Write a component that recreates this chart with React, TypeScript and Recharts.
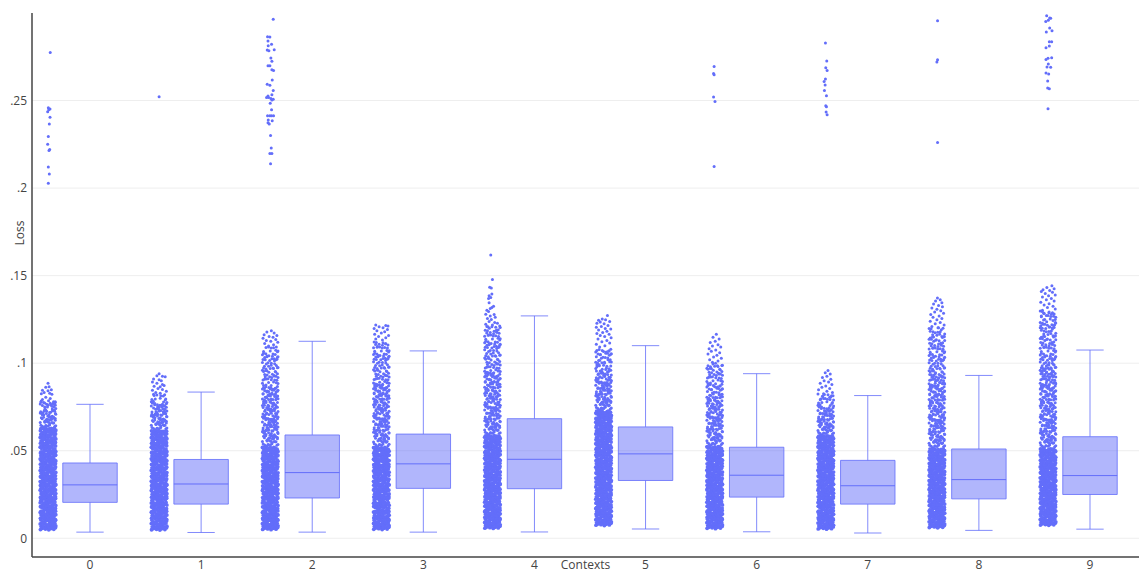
import React from 'react';
import { ScatterChart, Scatter, XAxis, YAxis, CartesianGrid, ReferenceArea, ReferenceLine, Label } from 'recharts';

const categories = [0, 1, 2, 3, 4, 5, 6, 7, 8, 9];
const lossTicks = [0, 0.05, 0.1, 0.15, 0.2, 0.25];

// box stats per context
const whiskerLow = [0.0035, 0.0033, 0.0035, 0.0035, 0.0036, 0.0053, 0.0037, 0.003, 0.0045, 0.0052];
const quartile1 = [0.0205, 0.0195, 0.023, 0.0285, 0.0283, 0.033, 0.0235, 0.0195, 0.0225, 0.025];
const medians = [0.0305, 0.031, 0.0375, 0.0425, 0.0451, 0.0482, 0.036, 0.03, 0.0335, 0.0358];
const quartile3 = [0.043, 0.045, 0.059, 0.0595, 0.0683, 0.0636, 0.052, 0.0445, 0.051, 0.058];
const whiskerHigh = [0.0765, 0.0835, 0.1125, 0.107, 0.127, 0.11, 0.094, 0.0815, 0.093, 0.1075];

// losses of the solid lower part of each strip
const solidLoss = [
  [0.0054, 0.0068, 0.0081, 0.0098, 0.0112, 0.0129, 0.0143, 0.0158, 0.0175, 0.0189, 0.0206, 0.0221, 0.0235, 0.0252, 0.0268, 0.0281, 0.0298, 0.0313, 0.0329, 0.0344, 0.0358, 0.0375, 0.0391, 0.0405, 0.0422, 0.0437, 0.0451, 0.0468, 0.0483, 0.0498, 0.0515, 0.0529, 0.0546, 0.0561, 0.0577, 0.0592, 0.0608, 0.0623],
  [0.0053, 0.0067, 0.0083, 0.0096, 0.0113, 0.0127, 0.0144, 0.0157, 0.0173, 0.0191, 0.0204, 0.0222, 0.0236, 0.0251, 0.0266, 0.0283, 0.0297, 0.0312, 0.0331, 0.0343, 0.036, 0.0374, 0.0392, 0.0404, 0.0421, 0.0438, 0.0452, 0.0467, 0.0484, 0.0497, 0.0514, 0.053, 0.0545, 0.0562, 0.0576, 0.0593, 0.0607],
  [0.0055, 0.0069, 0.0082, 0.0099, 0.0111, 0.0128, 0.0142, 0.0159, 0.0174, 0.0188, 0.0205, 0.0222, 0.0234, 0.0253, 0.0267, 0.0282, 0.0296, 0.0314, 0.0328, 0.0345, 0.0359, 0.0373, 0.039, 0.0406, 0.042, 0.0436, 0.0453, 0.0466, 0.0482, 0.0499, 0.0513],
  [0.0056, 0.007, 0.0084, 0.0097, 0.0114, 0.0126, 0.0145, 0.0156, 0.0176, 0.019, 0.0203, 0.0223, 0.0237, 0.025, 0.0269, 0.028, 0.0299, 0.0311, 0.033, 0.0342, 0.0361, 0.0376, 0.0389, 0.0407, 0.0419, 0.0439, 0.045, 0.0469, 0.0481, 0.05, 0.0512],
  [0.0062, 0.0075, 0.0089, 0.0103, 0.0118, 0.0134, 0.0147, 0.0163, 0.0178, 0.0193, 0.0209, 0.0224, 0.0239, 0.0255, 0.0271, 0.0285, 0.0301, 0.0316, 0.0333, 0.0347, 0.0362, 0.0378, 0.0394, 0.0408, 0.0425, 0.044, 0.0455, 0.0471, 0.0486, 0.0502, 0.0518, 0.0532, 0.0549, 0.0564, 0.0579],
  [0.0079, 0.0091, 0.0105, 0.012, 0.0136, 0.0149, 0.0165, 0.018, 0.0195, 0.0211, 0.0226, 0.0241, 0.0257, 0.0273, 0.0287, 0.0303, 0.0318, 0.0335, 0.0349, 0.0364, 0.038, 0.0396, 0.041, 0.0427, 0.0442, 0.0457, 0.0473, 0.0488, 0.0504, 0.052, 0.0534, 0.0551, 0.0566, 0.0581, 0.0597, 0.0612, 0.0628, 0.0643, 0.0659, 0.0675, 0.069, 0.0706, 0.0721],
  [0.0061, 0.0074, 0.0088, 0.0102, 0.0117, 0.0133, 0.0146, 0.0162, 0.0177, 0.0192, 0.0208, 0.0225, 0.0238, 0.0254, 0.027, 0.0284, 0.03, 0.0315, 0.0332, 0.0346, 0.0363, 0.0377, 0.0393, 0.0409, 0.0424, 0.0441, 0.0454, 0.047, 0.0487, 0.0501, 0.0517],
  [0.0058, 0.0072, 0.0086, 0.01, 0.0115, 0.0131, 0.0146, 0.016, 0.0177, 0.0192, 0.0207, 0.0224, 0.0238, 0.0254, 0.0268, 0.0284, 0.0301, 0.0315, 0.0331, 0.0346, 0.0361, 0.0377, 0.0393, 0.0408, 0.0423, 0.0439, 0.0454, 0.047, 0.0486, 0.05, 0.0516, 0.0531, 0.0547, 0.0563, 0.0578],
  [0.0066, 0.0079, 0.0093, 0.0107, 0.0122, 0.0138, 0.0151, 0.0167, 0.0182, 0.0197, 0.0213, 0.0228, 0.0243, 0.0259, 0.0272, 0.0286, 0.0302, 0.0317, 0.0334, 0.0348, 0.0365, 0.0379, 0.0395, 0.0411, 0.0426, 0.0443, 0.0456, 0.0472, 0.0489, 0.0503],
  [0.008, 0.0092, 0.0106, 0.0121, 0.0137, 0.015, 0.0166, 0.0181, 0.0196, 0.0212, 0.0227, 0.0242, 0.0258, 0.0274, 0.0288, 0.0304, 0.0319, 0.0336, 0.035, 0.0366, 0.0381, 0.0397, 0.0412, 0.0428, 0.0444, 0.0458, 0.0474, 0.049, 0.0505],
];

// losses of the speckled middle part of each strip
const midLoss = [
  [0.0637, 0.0652, 0.0671, 0.0684, 0.0702, 0.0718, 0.0729, 0.0747, 0.0758, 0.0771],
  [0.0622, 0.0639, 0.0656, 0.0668, 0.0687, 0.0701, 0.0714, 0.0733, 0.0746, 0.0759, 0.0772, 0.0788, 0.0805],
  [0.0529, 0.0544, 0.0563, 0.0578, 0.0591, 0.0611, 0.0624, 0.0642, 0.0655, 0.0673, 0.0689, 0.0703, 0.0722, 0.0736, 0.0751, 0.0769, 0.0784, 0.0801, 0.0815, 0.0834, 0.0848, 0.0863, 0.0882, 0.0897, 0.0914, 0.0928, 0.0946, 0.0961, 0.0979, 0.0993, 0.1012, 0.1028, 0.1046, 0.1063, 0.1079],
  [0.0527, 0.0546, 0.056, 0.0579, 0.0594, 0.0609, 0.0627, 0.0643, 0.0658, 0.0676, 0.069, 0.0707, 0.0724, 0.0738, 0.0755, 0.0771, 0.0786, 0.0803, 0.0819, 0.0836, 0.085, 0.0867, 0.0884, 0.0899, 0.0917, 0.0931, 0.0949, 0.0964, 0.0981, 0.0997, 0.1014, 0.1031, 0.1047, 0.1062, 0.108, 0.1098, 0.1114],
  [0.0596, 0.0612, 0.0628, 0.0643, 0.0659, 0.0674, 0.0691, 0.0705, 0.0723, 0.0739, 0.0754, 0.0772, 0.0787, 0.0804, 0.082, 0.0835, 0.0853, 0.0868, 0.0885, 0.0901, 0.0918, 0.0933, 0.0951, 0.0966, 0.0983, 0.0999, 0.1016, 0.1032, 0.1049, 0.1065, 0.1082, 0.1099, 0.1115, 0.1131, 0.1148, 0.1164, 0.1181, 0.1197],
  [0.0737, 0.0753, 0.0769, 0.0785, 0.0799, 0.0817, 0.0832, 0.0849, 0.0865, 0.0881, 0.0896, 0.0913, 0.0929, 0.0945, 0.0962, 0.0977, 0.0994, 0.1011, 0.1026, 0.1043, 0.106, 0.1076],
  [0.0534, 0.0552, 0.0567, 0.0583, 0.0601, 0.0616, 0.0633, 0.0648, 0.0665, 0.0681, 0.0697, 0.0713, 0.073, 0.0745, 0.0762, 0.0778, 0.0795, 0.0811, 0.0827, 0.0843, 0.086, 0.0876, 0.0893, 0.0908, 0.0925, 0.0941, 0.0958, 0.0974, 0.0991],
  [0.0594, 0.061, 0.0626, 0.0641, 0.0657, 0.0672, 0.0689, 0.0704, 0.0721, 0.0737, 0.0752, 0.0768, 0.0785, 0.0801, 0.0817],
  [0.052, 0.0537, 0.0553, 0.0569, 0.0586, 0.0602, 0.0618, 0.0635, 0.065, 0.0667, 0.0683, 0.07, 0.0716, 0.0732, 0.0749, 0.0765, 0.0781, 0.0798, 0.0813, 0.083, 0.0846, 0.0862, 0.0879, 0.0895, 0.0912, 0.0927, 0.0944, 0.096, 0.0977, 0.0992, 0.1009, 0.1025, 0.1042, 0.1058, 0.1074, 0.1091, 0.1107, 0.1123, 0.114, 0.1156, 0.1172, 0.1189],
  [0.0521, 0.0538, 0.0555, 0.057, 0.0587, 0.0604, 0.062, 0.0636, 0.0653, 0.0669, 0.0685, 0.0702, 0.0717, 0.0734, 0.075, 0.0767, 0.0783, 0.08, 0.0816, 0.0832, 0.0849, 0.0865, 0.0881, 0.0898, 0.0915, 0.0931, 0.0947, 0.0963, 0.098, 0.0996, 0.1013, 0.1029, 0.1045, 0.1062, 0.1078, 0.1095, 0.1111, 0.1127, 0.1144, 0.116, 0.1177, 0.1193, 0.121, 0.1226, 0.1242, 0.1259, 0.1275, 0.1291],
];

// sideways spread of a strip row, in category units
const solidJitter = [
  [-0.068, -0.053, -0.038, -0.023, -0.008, 0.007, 0.022, 0.037, 0.052, 0.067],
  [-0.062, -0.047, -0.032, -0.017, -0.002, 0.013, 0.028, 0.043, 0.058, 0.07],
  [-0.07, -0.058, -0.043, -0.028, -0.013, 0.002, 0.017, 0.032, 0.047, 0.062],
  [-0.064, -0.05, -0.035, -0.02, -0.005, 0.01, 0.025, 0.04, 0.055, 0.068],
];
const midJitter = [
  [-0.065, 0.015, -0.02, 0.06, -0.045, 0.038, 0.002, -0.032, 0.048],
  [-0.05, 0.035, -0.005, 0.07, -0.028, 0.052, 0.016, -0.064, -0.015],
  [-0.07, 0.02, -0.03, 0.045, -0.012, 0.065, 0.006, -0.052, 0.032],
  [-0.04, 0.05, 0, 0.065, -0.06, 0.025, -0.02, 0.012, 0.038],
  [-0.06, 0.03, -0.015, 0.07, -0.038, 0.008, 0.05, -0.05, -0.002],
  [-0.07, 0.01, -0.035, 0.055, -0.052, 0.04, -0.012, 0.024, 0.067],
];
// small up/down scatter so rows do not read as rows
const rowWobble = [-0.0009, 0.0004, 0.0011, -0.0003, 0.0007, -0.0012, 0.0002, 0.0009, -0.0006, 0.0013, -0.001];

// individually read points: [jitter, loss]
const tipPoints: [number, number][][] = [
  [[0.02, 0.2775], [0.003, 0.2459], [0.018, 0.2451], [0.007, 0.2448], [-0.003, 0.2436], [0.018, 0.2404], [0.012, 0.2366], [0.003, 0.2295], [-0.003, 0.2251], [0.015, 0.2221], [0.009, 0.2215], [0.003, 0.212], [0.012, 0.208], [0.003, 0.2027],
    [0, 0.0885], [0.01, 0.0865], [-0.02, 0.0862], [0.03, 0.0848], [-0.05, 0.0845], [0, 0.0842], [-0.035, 0.0832], [0.015, 0.0828], [-0.06, 0.0825], [0.035, 0.0822], [-0.02, 0.0805], [0.02, 0.0798], [-0.05, 0.0792], [0.005, 0.0785], [-0.065, 0.0778], [0.05, 0.078], [0.065, 0.0775], [0.06, 0.0765], [-0.03, 0.0772]],
  [[0, 0.2522],
    [0, 0.094], [-0.02, 0.0928], [0.03, 0.0925], [0.055, 0.0922], [-0.05, 0.091], [0, 0.0905], [0.02, 0.09], [-0.06, 0.0892], [-0.02, 0.0885], [0.03, 0.0878], [-0.045, 0.0868], [0.01, 0.0866], [0.045, 0.0872], [-0.01, 0.0855], [0.03, 0.085], [-0.06, 0.0845], [0.065, 0.084], [-0.03, 0.0832], [0.01, 0.0828], [-0.05, 0.0822], [0.05, 0.082]],
  [[0.027, 0.2964], [-0.024, 0.2865], [-0.003, 0.2863], [-0.02, 0.284], [0.012, 0.2821], [-0.018, 0.2813], [-0.027, 0.2789], [-0.012, 0.2785], [0.036, 0.279], [0.006, 0.2743], [0.015, 0.2724], [-0.02, 0.2699], [-0.003, 0.2699], [0.015, 0.2676], [0.03, 0.2672], [0.018, 0.2617], [-0.027, 0.2593], [-0.003, 0.2587], [0.027, 0.2558], [0.015, 0.2533], [-0.02, 0.2526], [-0.033, 0.2518], [-0.015, 0.2518], [0.006, 0.2512], [0.027, 0.2507], [0.015, 0.2503], [0, 0.2484], [0.012, 0.2448], [-0.024, 0.2413], [-0.003, 0.2413], [0.012, 0.2413], [0.03, 0.2413], [-0.018, 0.2389], [0.018, 0.2385], [-0.02, 0.2373], [-0.009, 0.2366], [0.003, 0.2301], [0.009, 0.2229], [-0.003, 0.2198], [0.015, 0.2198], [0.003, 0.2139],
    [0.01, 0.1185], [-0.03, 0.1178], [0.035, 0.1172], [-0.055, 0.1162], [0.06, 0.1158], [-0.01, 0.1152], [0.025, 0.1148], [-0.065, 0.1142], [0.05, 0.1135], [-0.035, 0.113], [0.005, 0.1125], [0.068, 0.112], [-0.05, 0.1112], [0.03, 0.1105], [-0.015, 0.1098], [0.055, 0.1092]],
  [[-0.05, 0.1218], [0.04, 0.1215], [0.06, 0.1213], [-0.02, 0.1208], [0.015, 0.1202], [-0.065, 0.1198], [0.055, 0.1192], [-0.04, 0.1185], [0.03, 0.118], [0, 0.1172], [-0.06, 0.1165], [0.065, 0.1158], [-0.025, 0.1152], [0.04, 0.1145], [-0.05, 0.1138], [0.01, 0.1132]],
  [[-0.015, 0.1618], [0, 0.1478], [-0.025, 0.1434], [-0.01, 0.143], [-0.005, 0.1395], [-0.03, 0.1385], [-0.015, 0.1375], [-0.035, 0.137], [-0.03, 0.1345], [-0.05, 0.1302], [-0.02, 0.1312], [-0.005, 0.1318], [0.01, 0.1325], [-0.06, 0.128], [-0.035, 0.1295], [0.015, 0.1278], [-0.02, 0.127], [0.025, 0.1262], [-0.045, 0.1255], [-0.01, 0.125], [-0.03, 0.1238], [0.02, 0.1232], [0.045, 0.1228], [-0.06, 0.1222], [0, 0.1218], [0.065, 0.1212], [-0.04, 0.1208], [0.03, 0.1205]],
  [[0.035, 0.1272], [-0.012, 0.1252], [-0.045, 0.1245], [0.018, 0.1248], [-0.03, 0.1235], [0.055, 0.1238], [-0.06, 0.1228], [0.005, 0.1225], [0.04, 0.1215], [-0.065, 0.1205], [-0.02, 0.121], [0.065, 0.1195], [0.015, 0.1198], [-0.045, 0.119], [0.03, 0.1182], [-0.008, 0.1175], [-0.06, 0.117], [0.05, 0.1165], [-0.03, 0.1158], [0.01, 0.1152], [0.068, 0.1145], [-0.05, 0.1138], [0.03, 0.113], [-0.015, 0.1122], [0.055, 0.1115], [-0.065, 0.1108], [0.012, 0.11], [-0.035, 0.1092]],
  [[-0.005, 0.2695], [-0.01, 0.2655], [-0.005, 0.2648], [-0.01, 0.252], [0.003, 0.2495], [-0.005, 0.2124],
    [0.015, 0.1165], [-0.015, 0.1148], [0.04, 0.1138], [0.005, 0.1125], [-0.04, 0.1118], [0.03, 0.1105], [-0.02, 0.1098], [0.055, 0.1092], [-0.05, 0.1082], [0.01, 0.1075], [-0.03, 0.1068], [0.045, 0.106], [-0.06, 0.1052], [0.02, 0.1045], [-0.01, 0.1035], [0.06, 0.1028], [-0.045, 0.102], [0.03, 0.1012], [-0.02, 0.1005]],
  [[-0.003, 0.2829], [0.009, 0.2726], [0, 0.2688], [0.012, 0.2671], [-0.003, 0.2623], [-0.015, 0.2609], [-0.006, 0.2589], [-0.012, 0.2558], [0.006, 0.2527], [0, 0.247], [0.006, 0.2465], [0.003, 0.2434], [0.012, 0.2419],
    [0.02, 0.0958], [-0.005, 0.0945], [0.04, 0.0938], [0.01, 0.0925], [-0.03, 0.0918], [0.045, 0.0908], [-0.015, 0.09], [0.025, 0.0892], [-0.05, 0.0885], [0.055, 0.0878], [0, 0.087], [-0.035, 0.0862], [0.035, 0.0855], [-0.065, 0.0848], [0.01, 0.084], [0.06, 0.0832], [-0.02, 0.0825]],
  [[0.006, 0.2956], [0.006, 0.2733], [0, 0.272], [0.006, 0.2261],
    [0.005, 0.1372], [0.03, 0.1362], [-0.012, 0.1355], [0.045, 0.1345], [-0.03, 0.1338], [0.015, 0.133], [0.05, 0.1322], [-0.045, 0.1315], [0, 0.1308], [0.035, 0.13], [-0.02, 0.1292], [0.06, 0.1285], [-0.055, 0.1278], [0.02, 0.127], [-0.035, 0.1262], [0.045, 0.1255], [0, 0.1248], [-0.06, 0.124], [0.03, 0.1232], [-0.015, 0.1225], [0.065, 0.1218], [-0.045, 0.121], [0.015, 0.1203]],
  [[-0.012, 0.2985], [0.015, 0.2971], [0.024, 0.297], [0.003, 0.2958], [-0.02, 0.2952], [0.015, 0.2914], [0.036, 0.2899], [-0.015, 0.2891], [0.012, 0.2836], [0.033, 0.2836], [0.012, 0.2811], [-0.018, 0.2802], [0.033, 0.2745], [0, 0.2741], [-0.018, 0.2735], [0.003, 0.2709], [-0.009, 0.2692], [0.024, 0.269], [-0.018, 0.2657], [0.006, 0.2651], [-0.003, 0.2611], [-0.003, 0.2571], [0.012, 0.2567], [0, 0.2453],
    [0.035, 0.1442], [-0.01, 0.1432], [0.055, 0.1425], [-0.045, 0.142], [0.015, 0.1415], [-0.06, 0.141], [0.04, 0.1405], [-0.025, 0.1398], [0.065, 0.139], [0.005, 0.1385], [-0.05, 0.1378], [0.03, 0.137], [-0.015, 0.1362], [0.055, 0.1355], [-0.065, 0.1348], [0.01, 0.134], [-0.035, 0.1332], [0.045, 0.1325], [-0.005, 0.1318], [0.065, 0.131], [-0.05, 0.1302]],
];

const BLUE = '#636EFA';
const STRIP_OFFSET = -0.378;
const BOX_HALF = 0.245;
const CAP_HALF = 0.123;

const solidData = categories.flatMap((cat) =>
  solidLoss[cat].flatMap((loss, i) =>
    solidJitter[i % solidJitter.length].map((j, k) => ({
      x: cat + STRIP_OFFSET + j,
      y: loss + rowWobble[(i * 3 + k) % rowWobble.length] * 0.5,
    }))));

const speckleData = categories.flatMap((cat) => {
  const rows = midLoss[cat];
  const mid = rows.flatMap((loss, i) =>
    // the upper rows of a strip thin out
    midJitter[i % midJitter.length].slice(0, i < rows.length * 0.6 ? 9 : 6).map((j, k) => ({
      x: cat + STRIP_OFFSET + j,
      y: loss + rowWobble[(i * 5 + k * 2) % rowWobble.length],
    })));
  const tips = tipPoints[cat].map(([j, loss]) => ({ x: cat + STRIP_OFFSET + j, y: loss }));
  return [...mid, ...tips];
});

const SolidDot = (props: any) => <circle cx={props.cx} cy={props.cy} r={1.9} fill={BLUE} />;
const StripDot = (props: any) => <circle cx={props.cx} cy={props.cy} r={1.5} fill={BLUE} />;

const formatLoss = (v: number) => (v === 0 ? '0' : String(v).replace(/^0/, ''));

const tickStyle = { fontFamily: '"Open Sans"', fontSize: 12, fill: '#444' };

export default function App() {
  return (
    <div style={{ position: 'absolute', left: 0, top: 0, width: 1139, height: 572, background: '#fff' }}>
      <ScatterChart width={1139} height={572} margin={{ top: 13, right: 0, bottom: 0, left: 0 }}>
        <CartesianGrid vertical={false} stroke="#eee" syncWithTicks />
        <XAxis
          type="number"
          dataKey="x"
          domain={[-0.522, 9.441]}
          ticks={categories}
          interval={0}
          allowDataOverflow
          height={15}
          tickLine={false}
          tickSize={0}
          tickMargin={3}
          tick={tickStyle}
          axisLine={{ stroke: '#444', strokeWidth: 1.5 }}
        >
          <Label value="Contexts" position="insideBottom" offset={0} dy={-3} style={tickStyle} />
        </XAxis>
        <YAxis
          type="number"
          dataKey="y"
          domain={[-0.0107, 0.3]}
          ticks={lossTicks}
          allowDataOverflow
          width={32}
          tickLine={false}
          tickSize={0}
          tickMargin={5}
          tickFormatter={formatLoss}
          tick={tickStyle}
          axisLine={{ stroke: '#444', strokeWidth: 1.5 }}
        >
          <Label value="Loss" angle={-90} position="insideLeft" offset={20} dy={-52} style={{ ...tickStyle, textAnchor: 'middle' }} />
        </YAxis>
        {categories.map((cat) => (
          <ReferenceArea
            key={`box-${cat}`}
            x1={cat - BOX_HALF}
            x2={cat + BOX_HALF}
            y1={quartile1[cat]}
            y2={quartile3[cat]}
            fill={BLUE}
            fillOpacity={0.5}
            stroke={BLUE}
            strokeOpacity={0.8}
          />
        ))}
        {categories.map((cat) => (
          <React.Fragment key={`lines-${cat}`}>
            <ReferenceLine segment={[{ x: cat - BOX_HALF, y: medians[cat] }, { x: cat + BOX_HALF, y: medians[cat] }]} stroke={BLUE} />
            <ReferenceLine segment={[{ x: cat, y: quartile3[cat] }, { x: cat, y: whiskerHigh[cat] }]} stroke={BLUE} strokeOpacity={0.8} />
            <ReferenceLine segment={[{ x: cat, y: quartile1[cat] }, { x: cat, y: whiskerLow[cat] }]} stroke={BLUE} strokeOpacity={0.8} />
            <ReferenceLine segment={[{ x: cat - CAP_HALF, y: whiskerHigh[cat] }, { x: cat + CAP_HALF, y: whiskerHigh[cat] }]} stroke={BLUE} strokeOpacity={0.8} />
            <ReferenceLine segment={[{ x: cat - CAP_HALF, y: whiskerLow[cat] }, { x: cat + CAP_HALF, y: whiskerLow[cat] }]} stroke={BLUE} strokeOpacity={0.8} />
          </React.Fragment>
        ))}
        <Scatter data={solidData} shape={SolidDot} isAnimationActive={false} />
        <Scatter data={speckleData} shape={StripDot} isAnimationActive={false} />
      </ScatterChart>
    </div>
  );
}
